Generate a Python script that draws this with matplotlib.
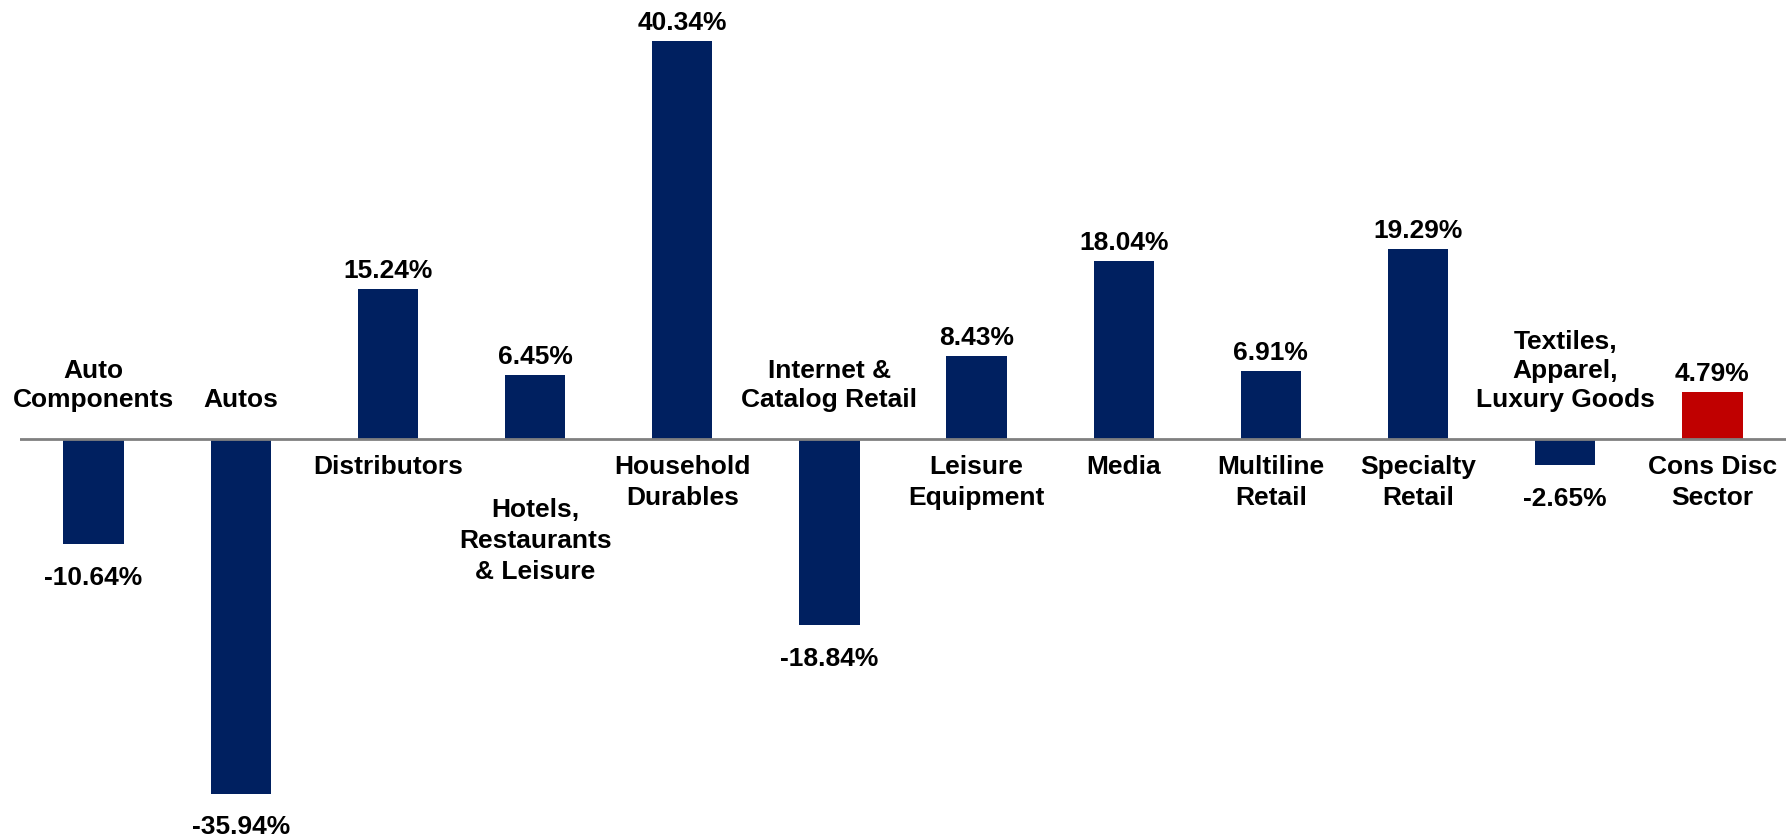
import numpy as np
import matplotlib.pyplot as plt

plt.rcParams['font.family'] = ['Liberation Sans', 'DejaVu Sans']

categories = ["Auto\nComponents", "Autos", "Distributors", "Hotels,\nRestaurants\n& Leisure",
              "Household\nDurables", "Internet &\nCatalog Retail", "Leisure\nEquipment", "Media",
              "Multiline\nRetail", "Specialty\nRetail", "Textiles,\nApparel,\nLuxury Goods",
              "Cons Disc\nSector"]
values = [-10.64, -35.94, 15.24, 6.45, 40.34, -18.84, 8.43, 18.04, 6.91, 19.29, -2.65, 4.79]
value_labels = ["-10.64%", "-35.94%", "15.24%", "6.45%", "40.34%", "-18.84%", "8.43%",
                "18.04%", "6.91%", "19.29%", "-2.65%", "4.79%"]

navy = '#002060'
red = '#C00000'
colors = [navy] * (len(values) - 1) + [red]

fig = plt.figure(figsize=(17.9, 8.39), dpi=100)
ax = fig.add_axes([20/1790, 0, 1766/1790, 1])

x = np.arange(len(values))
ax.bar(x, values, width=0.41, color=colors, zorder=2)
ax.axhline(0, color='#808080', lw=2, zorder=3)

ax.set_xlim(-0.5, len(values) - 0.5)
ax.set_ylim(-40.53, 44.48)
ax.axis('off')

fs = 19
for i, v in enumerate(values):
    if v >= 0:
        ax.text(i, v + 0.6, value_labels[i], ha='center', va='bottom', fontsize=fs, fontweight='bold')
        # Hotels label sits lower so it clears its neighbours
        y_cat = -6.0 if i == 3 else -1.6
        ax.text(i, y_cat, categories[i], ha='center', va='top', fontsize=fs, fontweight='bold',
                linespacing=1.36)
    else:
        ax.text(i, v - 2.2, value_labels[i], ha='center', va='top', fontsize=fs, fontweight='bold')
        ax.text(i, 2.7, categories[i], ha='center', va='bottom', fontsize=fs, fontweight='bold',
                linespacing=1.27)

fig.savefig('out.png', dpi=100)
